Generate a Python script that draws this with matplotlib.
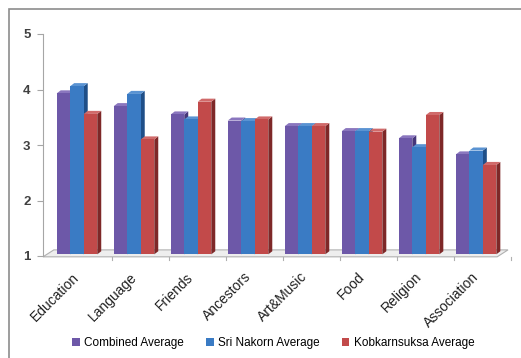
import matplotlib as mpl
mpl.rcParams['font.family'] = 'Liberation Sans'

import matplotlib.pyplot as plt
import numpy as np
from matplotlib.patches import Polygon, Rectangle, Patch

categories = ["Education", "Language", "Friends", "Ancestors", "Art&Music", "Food", "Religion", "Association"]
combined = [3.93, 3.70, 3.55, 3.44, 3.34, 3.25, 3.12, 2.83]
sri_nakorn = [4.06, 3.92, 3.46, 3.43, 3.34, 3.25, 2.96, 2.90]
kobkarn = [3.56, 3.10, 3.78, 3.46, 3.34, 3.24, 3.54, 2.64]

series = [combined, sri_nakorn, kobkarn]
names = ["Combined Average", "Sri Nakorn Average", "Kobkarnsuksa Average"]
front = ["#6D58A8", "#3A7BC4", "#C24A4A"]
side = ["#46367A", "#1F4F88", "#7E2828"]
top = ["#8A76BE", "#5A93D2", "#D06A6A"]

fig = plt.figure(figsize=(5.21, 3.58), dpi=100)
# outer chart frame
fig.add_artist(Rectangle((9/521, -0.1), 1.2, (358-9)/358 + 0.1, transform=fig.transFigure,
                         fill=False, edgecolor="#8c8c8c", lw=1.2))

ax = fig.add_axes([43/521, 102/358, (508-43)/521, 222/358])
x = np.arange(len(categories))
w = 0.237
ddx, ddy = 0.07, 0.055  # bar depth offset in data units

ax.set_xlim(-0.596, 7.56)
ax.set_ylim(1, 5)

# floor
fx0, fx1 = -0.596, 7.37
floor = Polygon([(fx0, 0.985), (fx1, 0.985), (fx1 + 0.19, 1.11), (fx0 + 0.19, 1.11)],
                closed=True, facecolor="#eeeeee", edgecolor="#b0b0b0", lw=0.8, clip_on=False, zorder=1)
ax.add_patch(floor)

for i in range(len(categories)):
    for s in range(3):
        v = series[s][i]
        x0 = x[i] + (s - 1.5) * w
        ax.add_patch(Polygon([(x0 + w, 1.03), (x0 + w + ddx, 1.03 + ddy), (x0 + w + ddx, v + ddy), (x0 + w, v)],
                             closed=True, facecolor=side[s], lw=0, zorder=2 + s, clip_on=False))
        ax.add_patch(Polygon([(x0, v), (x0 + w, v), (x0 + w + ddx, v + ddy), (x0 + ddx, v + ddy)],
                             closed=True, facecolor=top[s], lw=0, zorder=2 + s, clip_on=False))
        ax.bar(x0, v - 1.03, width=w, bottom=1.03, align='edge', color=front[s], lw=0, zorder=2 + s)

for sp in ["top", "right", "bottom"]:
    ax.spines[sp].set_visible(False)
ax.spines["left"].set_color("#a6a6a6")
ax.set_yticks([1, 2, 3, 4, 5])
ax.tick_params(axis='y', colors="#a6a6a6", labelcolor="#404040", labelsize=9.5, length=4, pad=5)
ax.set_xticks(x - 0.08)
ax.set_xticklabels(categories, rotation=45, ha='right', va='top', rotation_mode='anchor', fontsize=10, color="#202020")
ax.tick_params(axis='x', length=0, pad=10)
for lab in ax.get_yticklabels():
    lab.set_fontweight('bold')

# small tick marks under the floor at category boundaries
for b in np.arange(len(categories)) + 0.62:
    ax.plot([b, b], [0.985, 0.93], color="#b0b0b0", lw=0.8, clip_on=False)

handles = [Patch(facecolor=front[s], label=names[s]) for s in range(3)]
fig.legend(handles=handles, loc='center', bbox_to_anchor=(273/521, 1 - 343/358), ncol=3, frameon=False,
           fontsize=8.5, handlelength=0.65, handleheight=0.65, handletextpad=0.35, columnspacing=1.9)

fig.savefig("out.png", dpi=100)
